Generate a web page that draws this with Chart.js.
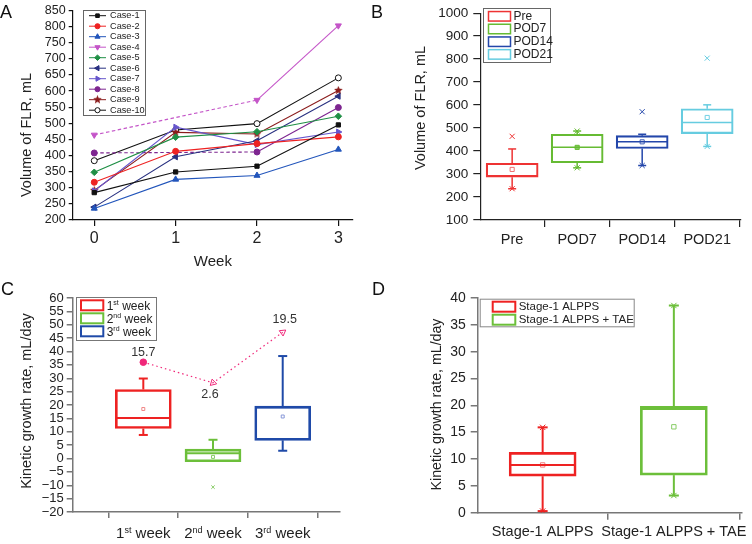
<!DOCTYPE html>
<html>
<head>
<meta charset="utf-8">
<script src="https://cdn.jsdelivr.net/npm/chart.js"></script>
<style>
html,body{margin:0;padding:0;background:#fff;}
#wrap{position:relative;width:752px;height:544px;overflow:hidden;background:#fff;}
.pane{position:absolute;width:376px;height:272px;}
.pane canvas{display:block;}
.letter{position:absolute;font-family:'Liberation Sans',Arial,Helvetica,sans-serif;font-size:18px;line-height:18px;color:#111;}
</style>
</head>
<body>
<div id="wrap">
  <div class="pane" style="left:0;top:0"><canvas id="cA" width="376" height="272"></canvas></div>
  <div class="pane" style="left:376px;top:0"><canvas id="cB" width="376" height="272"></canvas></div>
  <div class="pane" style="left:0;top:272px"><canvas id="cC" width="376" height="272"></canvas></div>
  <div class="pane" style="left:376px;top:272px"><canvas id="cD" width="376" height="272"></canvas></div>
  <div class="letter" style="left:0;top:3px">A</div>
  <div class="letter" style="left:371px;top:3px">B</div>
  <div class="letter" style="left:1px;top:280px">C</div>
  <div class="letter" style="left:372px;top:280px">D</div>
</div>
<script>
// ===== Panel A: volume of FLR by week, per case (null = not measured) =====
const weeks = [0, 1, 2, 3];
const caseNames = ['Case-1','Case-2','Case-3','Case-4','Case-5','Case-6','Case-7','Case-8','Case-9','Case-10'];
const case1  = [285, 349, 367, 495];
const case2  = [317, 413, 437, 458];
const case3  = [236, 326, 338, 419];
const case4  = [464, null, 572, 803];
const case5  = [348, 457, 474, 522];
const case6  = [240, 396, 446, 584];
const case7  = [290, 488, 434, 473];
const case8  = [408, null, 411, 549];
const case9  = [292, 472, 467, 602];
const case10 = [384, 479, 499, 641];
const yRangeA = [200, 850, 50];

// ===== Panel B: FLR volume box plots =====
const podLabels = ['Pre','POD7','POD14','POD21'];
const podQ1 = [286, 349, 411, 476];
const podMedian = [293, 416, 440, 524];
const podQ3 = [347, 473, 467, 584];
const podMean = [320, 416, 440, 546];
const podWhiskerLow = [236, 327, 337, 420];
const podWhiskerHigh = [409, 487, 473, 601];
const podMin = [236, 327, 337, 420];
const podMax = [464, 487, 571, 804];
const yRangeB = [100, 1000, 100];

// ===== Panel C: kinetic growth rate per week =====
const weekLabels = ['1st week','2nd week','3rd week'];
const kgrQ1 = [11.2, -1.2, 6.8];
const kgrMedian = [15.1, 2.0, 19.2];
const kgrQ3 = [25.8, 3.5, 19.6];
const kgrMean = [18.5, 0.6, 15.7];
const kgrWhiskerLow = [8.8, -1.2, 2.9];
const kgrWhiskerHigh = [29.9, 7.0, 38.3];
const kgrOutlier = [null, -10.7, null];
const trendY = [36.0, 28.3, 47.2];
const trendText = ['15.7', '2.6', '19.5'];
const yRangeC = [-20, 60, 5];

// ===== Panel D: kinetic growth rate by group =====
const groupLabels = ['Stage-1 ALPPS','Stage-1 ALPPS + TAE'];
const grpQ1 = [6.8, 7.0];
const grpMedian = [8.9, 19.3];
const grpQ3 = [11.25, 19.8];
const grpMean = [8.9, 16.0];
const grpWhiskerLow = [0.3, 3.2];
const grpWhiskerHigh = [15.9, 38.6];
const yRangeD = [0, 40, 5];

// ---------------------------------------------------------------
const FONT = "'Liberation Sans', Arial, Helvetica, sans-serif";
const TXT = '#222';
const fnt = s => ({family: FONT, size: s});

function drawMarker(ctx, style, rotation, radius, x, y) {
  if (Chart.helpers && Chart.helpers.drawPoint) {
    Chart.helpers.drawPoint(ctx, {pointStyle: style, rotation: rotation || 0, radius: radius, borderWidth: 1}, x, y);
  } else {
    ctx.beginPath(); ctx.arc(x, y, radius, 0, Math.PI * 2); ctx.fill(); ctx.stroke();
  }
}
function starImg(color, size) {
  const c = document.createElement('canvas'); c.width = c.height = size;
  const g = c.getContext('2d'); const R = size / 2, r = R * 0.45;
  g.beginPath();
  for (let k = 0; k < 10; k++) {
    const a = -Math.PI / 2 + k * Math.PI / 5, rr = k % 2 ? r : R;
    g.lineTo(R + rr * Math.cos(a), R + rr * Math.sin(a));
  }
  g.closePath(); g.fillStyle = color; g.fill();
  return c;
}
function supParts(s) {
  const m = /^(\d+)(st|nd|rd|th)(.*)$/.exec(s);
  return m ? [[m[1], false], [m[2], true], [m[3], false]] : [[s, false]];
}
function drawSupText(ctx, s, x, yMid, size, align) {
  const parts = supParts(s), ss = Math.round(size * 0.62);
  let w = 0;
  parts.forEach(p => { ctx.font = (p[1] ? ss : size) + 'px ' + FONT; w += ctx.measureText(p[0]).width; });
  let cx = align === 'center' ? x - w / 2 : x;
  const base = yMid + size * 0.36;
  ctx.textAlign = 'left'; ctx.textBaseline = 'alphabetic';
  parts.forEach(p => {
    ctx.font = (p[1] ? ss : size) + 'px ' + FONT;
    ctx.fillText(p[0], cx, p[1] ? base - size * 0.38 : base);
    cx += ctx.measureText(p[0]).width;
  });
}
function drawLegend(ctx, L) {
  ctx.save();
  ctx.fillStyle = '#fff'; ctx.fillRect(L.x, L.y, L.w, L.h);
  ctx.strokeStyle = L.frame; ctx.lineWidth = 1; ctx.setLineDash([]);
  ctx.strokeRect(L.x + 0.5, L.y + 0.5, L.w, L.h);
  L.items.forEach((it, i) => {
    const cy = L.y0 + i * L.dy;
    if (L.kind === 'line') {
      ctx.strokeStyle = it.color; ctx.lineWidth = 1;
      ctx.beginPath(); ctx.moveTo(L.sx0, cy); ctx.lineTo(L.sx1, cy); ctx.stroke();
      ctx.fillStyle = it.fill; ctx.strokeStyle = it.color; ctx.lineWidth = 1;
      drawMarker(ctx, it.style, it.rot, it.r, (L.sx0 + L.sx1) / 2, cy);
    } else {
      ctx.strokeStyle = it.color; ctx.lineWidth = L.lw;
      ctx.strokeRect(L.sx0, cy - L.rh / 2, L.sx1 - L.sx0, L.rh);
    }
    ctx.fillStyle = TXT;
    if (L.sup) drawSupText(ctx, it.label, L.tx, cy, L.size, 'left');
    else {
      ctx.font = L.size + 'px ' + FONT; ctx.textAlign = 'left'; ctx.textBaseline = 'middle';
      ctx.fillText(it.label, L.tx, cy);
    }
  });
  ctx.restore();
}

const extras = {
  id: 'extras',
  afterDatasetsDraw(chart, args, o) {
    if (!o || !o.box) return;
    const ctx = chart.ctx, xs = chart.scales.x, ys = chart.scales.y, b = o.box;
    const Y = v => ys.getPixelForValue(v);
    const seg = (x1, y1, x2, y2) => { ctx.beginPath(); ctx.moveTo(x1, y1); ctx.lineTo(x2, y2); ctx.stroke(); };
    ctx.save(); ctx.setLineDash([]);
    b.colors.forEach((col, i) => {
      const cx = xs.getPixelForValue(i), hw = b.boxW / 2, cw = b.capW / 2;
      ctx.strokeStyle = col; ctx.lineWidth = b.lw;
      if (b.hi[i] > b.q3[i]) { seg(cx, Y(b.q3[i]), cx, Y(b.hi[i])); seg(cx - cw, Y(b.hi[i]), cx + cw, Y(b.hi[i])); }
      if (b.lo[i] < b.q1[i]) { seg(cx, Y(b.q1[i]), cx, Y(b.lo[i])); seg(cx - cw, Y(b.lo[i]), cx + cw, Y(b.lo[i])); }
      ctx.lineWidth = b.medLw || b.lw;
      seg(cx - hw + b.lw / 2, Y(b.med[i]), cx + hw - b.lw / 2, Y(b.med[i]));
    });
    ctx.restore();
  },
  afterDraw(chart, args, o) {
    if (!o) return;
    const ctx = chart.ctx;
    ctx.save();
    if (o.yTitle) {
      const t = o.yTitle;
      ctx.save(); ctx.translate(t.x, t.y); ctx.rotate(-Math.PI / 2);
      ctx.font = t.size + 'px ' + FONT; ctx.fillStyle = TXT; ctx.textAlign = 'center'; ctx.textBaseline = 'middle';
      ctx.fillText(t.text, 0, 0); ctx.restore();
    }
    if (o.xSup) {
      const xs = chart.scales.x;
      ctx.fillStyle = TXT;
      o.xSup.labels.forEach((s, i) => drawSupText(ctx, s, xs.getPixelForValue(i), o.xSup.y, o.xSup.size, 'center'));
    }
    if (o.trend) {
      const idx = chart.data.datasets.findIndex(d => d.isTrend);
      const meta = chart.getDatasetMeta(idx);
      ctx.fillStyle = '#333'; ctx.font = o.trend.size + 'px ' + FONT; ctx.textAlign = 'center'; ctx.textBaseline = 'middle';
      meta.data.forEach((pt, i) => ctx.fillText(o.trend.text[i], pt.x + o.trend.dx[i], pt.y + o.trend.dy[i]));
    }
    if (o.legend) drawLegend(ctx, o.legend);
    ctx.restore();
  }
};

function xAxis(o) {
  return {
    type: 'linear', min: o.min, max: o.max, offset: false,
    afterBuildTicks: s => { s.ticks = o.values.map(v => ({value: v})); },
    afterFit: s => { s.height = o.height; },
    ticks: {font: fnt(o.size), color: TXT, padding: o.pad, autoSkip: false, maxRotation: 0, callback: o.cb},
    grid: {display: true, drawOnChartArea: false, drawTicks: true, tickLength: o.tick, color: o.color, lineWidth: o.lw},
    border: {display: true, color: o.color, width: o.lw},
    title: o.title ? {display: true, text: o.title, font: fnt(o.titleSize), color: TXT, padding: {top: 0, bottom: o.titlePad}} : {display: false}
  };
}
function yAxis(o) {
  return {
    type: 'linear', min: o.range[0], max: o.range[1],
    afterFit: s => { s.width = o.width; },
    ticks: {stepSize: o.range[2], font: fnt(o.size), color: TXT, padding: o.pad, autoSkip: false,
      callback: v => String(v).replace('-', '\u2212')},
    grid: {display: true, drawOnChartArea: false, drawTicks: true, tickLength: o.tick, color: o.color, lineWidth: o.lw},
    border: {display: true, color: o.color, width: o.lw},
    title: {display: false}
  };
}

// ---------------- Panel A ----------------
const caseSeries = [case1, case2, case3, case4, case5, case6, case7, case8, case9, case10];
const caseStyle = [
  {c: '#111111', fill: '#111111', ps: 'rect', rot: 0, r: 3},
  {c: '#ee2222', fill: '#ee2222', ps: 'circle', rot: 0, r: 3},
  {c: '#2255bb', fill: '#2255bb', ps: 'triangle', rot: 0, r: 3.5},
  {c: '#c455c8', fill: '#c455c8', ps: 'triangle', rot: 180, r: 3.5},
  {c: '#1f8f45', fill: '#1f8f45', ps: 'rectRot', rot: 0, r: 3.3},
  {c: '#283080', fill: '#283080', ps: 'triangle', rot: -90, r: 3.5},
  {c: '#6655cc', fill: '#6655cc', ps: 'triangle', rot: 90, r: 3.5},
  {c: '#7d2590', fill: '#7d2590', ps: 'circle', rot: 0, r: 3},
  {c: '#8b1c1c', fill: '#8b1c1c', ps: starImg('#8b1c1c', 9), rot: 0, r: 3.5},
  {c: '#111111', fill: '#ffffff', ps: 'circle', rot: 0, r: 3}
];
const dashIfGap = ctx => (ctx.p0.skip || ctx.p1.skip) ? [3.5, 2.5] : undefined;

new Chart(document.getElementById('cA'), {
  type: 'line',
  data: {
    datasets: caseSeries.map((vals, i) => ({
      label: caseNames[i],
      data: weeks.map((w, j) => ({x: w, y: vals[j]})),
      borderColor: caseStyle[i].c, backgroundColor: caseStyle[i].fill,
      pointBackgroundColor: caseStyle[i].fill, pointBorderColor: caseStyle[i].c,
      pointStyle: caseStyle[i].ps, pointRotation: caseStyle[i].rot, pointRadius: caseStyle[i].r,
      pointBorderWidth: 1, borderWidth: 1.1, tension: 0, spanGaps: true,
      segment: {borderDash: dashIfGap}
    }))
  },
  options: {
    responsive: false, animation: false, events: [],
    layout: {padding: {left: 0, top: 10, right: 23, bottom: 0}},
    plugins: {
      legend: {display: false}, tooltip: {enabled: false},
      extras: {
        yTitle: {text: 'Volume of FLR, mL', x: 27, y: 135, size: 14.5},
        legend: {kind: 'line', x: 83, y: 10, w: 62, h: 105, frame: '#666', y0: 15.7, dy: 10.5,
          sx0: 89, sx1: 106, tx: 110, size: 9.2,
          items: caseNames.map((n, i) => ({label: n, color: caseStyle[i].c, fill: caseStyle[i].fill,
            style: caseStyle[i].ps, rot: caseStyle[i].rot, r: caseStyle[i].r * 0.85}))}
      }
    },
    scales: {
      x: xAxis({min: -0.265, max: 3.18, values: weeks, height: 52, size: 16, pad: 3, tick: 6, color: '#111', lw: 1.2,
        cb: v => String(v), title: 'Week', titleSize: 15, titlePad: 1}),
      y: yAxis({range: yRangeA, width: 72.7, size: 12.5, pad: 3, tick: 4, color: '#111', lw: 1.2})
    }
  },
  plugins: [extras]
});

// ---------------- Box chart builder ----------------
function boxChart(id, o) {
  const datasets = [
    {type: 'bar', data: o.q1.map((v, i) => ({x: i, y: [o.q1[i], o.q3[i]]})),
      borderColor: o.colors, backgroundColor: 'rgba(0,0,0,0)', borderWidth: o.lw,
      borderSkipped: false, barThickness: o.boxW, grouped: false},
    {type: 'scatter', data: o.mean.map((v, i) => ({x: i, y: v})), pointStyle: 'rect',
      pointRadius: o.meanR, pointBorderColor: o.meanColors, pointBackgroundColor: o.meanFill, pointBorderWidth: 1}
  ];
  if (o.marks.length) {
    datasets.push({type: 'scatter', data: o.marks.map(m => ({x: m.i, y: m.v})), pointStyle: 'crossRot',
      pointRadius: o.markR, pointBorderColor: o.marks.map(m => o.markColors[m.i]), pointBorderWidth: 1});
  }
  (o.extraDatasets || []).forEach(d => datasets.push(d));
  return new Chart(document.getElementById(id), {
    type: 'bar',
    data: {datasets},
    options: {
      responsive: false, animation: false, events: [],
      layout: {padding: o.padding},
      plugins: Object.assign({legend: {display: false}, tooltip: {enabled: false}},
        {extras: Object.assign({box: {colors: o.colors, q1: o.q1, q3: o.q3, med: o.med, lo: o.lo, hi: o.hi,
          boxW: o.boxW, capW: o.capW, lw: o.lw, medLw: o.medLw}}, o.extras)}),
      scales: {x: o.x, y: o.y}
    },
    plugins: [extras]
  });
}

// ---------------- Panel B ----------------
const colB = ['#ee3333', '#66bb33', '#2346aa', '#66cce0'];
boxChart('cB', {
  labels: podLabels, q1: podQ1, q3: podQ3, med: podMedian, mean: podMean, lo: podWhiskerLow, hi: podWhiskerHigh,
  colors: colB, meanColors: ['#f07070', '#66bb33', '#4060b8', '#70d0e4'], meanFill: ['#fff', '#88cc66', '#fff', '#fff'],
  marks: podMin.map((v, i) => ({i, v})).concat(podMax.map((v, i) => ({i, v}))), markColors: colB,
  boxW: 52, capW: 8, lw: 1.5, medLw: 1.5, meanR: 2.9, markR: 3.6,
  padding: {left: 0, top: 10, right: 11, bottom: 0},
  x: xAxis({min: -0.49, max: 3.52, values: [0, 1, 2, 3], height: 52, size: 14.5, pad: 4, tick: 7, color: '#222', lw: 1.2,
    cb: v => podLabels[v]}),
  y: yAxis({range: yRangeB, width: 104.3, size: 13.5, pad: 5, tick: 7, color: '#222', lw: 1.2}),
  extras: {
    yTitle: {text: 'Volume of FLR, mL', x: 45, y: 108, size: 14.5},
    legend: {kind: 'rect', x: 107, y: 8, w: 67, h: 54, frame: '#666', y0: 16.3, dy: 12.7,
      sx0: 112.5, sx1: 134.5, rh: 9.5, lw: 1.5, tx: 137.5, size: 12,
      items: podLabels.map((l, i) => ({label: l, color: colB[i]}))}
  }
});

// ---------------- Panel C ----------------
const colC = ['#ee2222', '#6cbf3a', '#1f4aa8'];
const trendDataset = {
  type: 'line', isTrend: true, data: trendY.map((v, i) => ({x: i, y: v})),
  borderColor: '#f0287a', borderWidth: 1.2, borderDash: [1.5, 3], tension: 0,
  pointStyle: ['circle', 'triangle', 'triangle'], pointRotation: [0, 106, 54], pointRadius: [3.3, 3.8, 3.8],
  pointBackgroundColor: ['#f0287a', 'rgba(255,255,255,0)', 'rgba(255,255,255,0)'],
  pointBorderColor: '#f0287a', pointBorderWidth: 1
};
boxChart('cC', {
  labels: weekLabels, q1: kgrQ1, q3: kgrQ3, med: kgrMedian, mean: kgrMean, lo: kgrWhiskerLow, hi: kgrWhiskerHigh,
  colors: colC, meanColors: ['#f08888', '#88cc66', '#8898d8'], meanFill: ['#fff', '#fff', '#fff'],
  marks: kgrOutlier.map((v, i) => ({i, v})).filter(m => m.v !== null), markColors: ['#f08888', '#88cc66', '#8898d8'],
  boxW: 56, capW: 9, lw: 2, medLw: 2, meanR: 2.1, markR: 2.4,
  extraDatasets: [trendDataset],
  padding: {left: 0, top: 26, right: 36, bottom: 0},
  x: xAxis({min: -1.013, max: 2.822, values: [0, 1, 2], height: 32, size: 15, pad: 4, tick: 6, color: '#777', lw: 1.5,
    cb: () => ''}),
  y: yAxis({range: yRangeC, width: 72.7, size: 13, pad: 3, tick: 6, color: '#777', lw: 1.5}),
  extras: {
    yTitle: {text: 'Kinetic growth rate, mL/day', x: 27, y: 129, size: 14.5},
    xSup: {labels: weekLabels, y: 261, size: 15},
    trend: {text: trendText, size: 12.5, dx: [0, -3, 2], dy: [-10, 12, -13]},
    legend: {kind: 'rect', x: 76, y: 25, w: 80, h: 43, frame: '#777', y0: 33.3, dy: 13,
      sx0: 81, sx1: 103.3, rh: 10, lw: 2, tx: 106.7, size: 12, sup: true,
      items: weekLabels.map((l, i) => ({label: l, color: colC[i]}))}
  }
});

// ---------------- Panel D ----------------
const colD = ['#ee2222', '#6cbf3a'];
boxChart('cD', {
  labels: groupLabels, q1: grpQ1, q3: grpQ3, med: grpMedian, mean: grpMean, lo: grpWhiskerLow, hi: grpWhiskerHigh,
  colors: colD, meanColors: ['#f08080', '#88cc66'], meanFill: ['#fff', '#fff'],
  marks: grpWhiskerLow.map((v, i) => ({i, v})).concat(grpWhiskerHigh.map((v, i) => ({i, v}))), markColors: colD,
  boxW: 67, capW: 10, lw: 2, medLw: 2, meanR: 3.1, markR: 3.8,
  padding: {left: 0, top: 26, right: 6, bottom: 0},
  x: xAxis({min: -0.495, max: 1.518, values: [0, 1], height: 31.3, size: 14.5, pad: 4, tick: 7, color: '#777', lw: 1.5,
    cb: v => groupLabels[v]}),
  y: yAxis({range: yRangeD, width: 101.7, size: 14, pad: 5, tick: 7, color: '#777', lw: 1.5}),
  extras: {
    yTitle: {text: 'Kinetic growth rate, mL/day', x: 61, y: 132.5, size: 14.2},
    legend: {kind: 'rect', x: 103.7, y: 26.7, w: 154, h: 27.6, frame: '#888', y0: 34.7, dy: 13,
      sx0: 116.7, sx1: 139.3, rh: 10, lw: 2, tx: 142.7, size: 11.5,
      items: groupLabels.map((l, i) => ({label: l, color: colD[i]}))}
  }
});
</script>
</body>
</html>
